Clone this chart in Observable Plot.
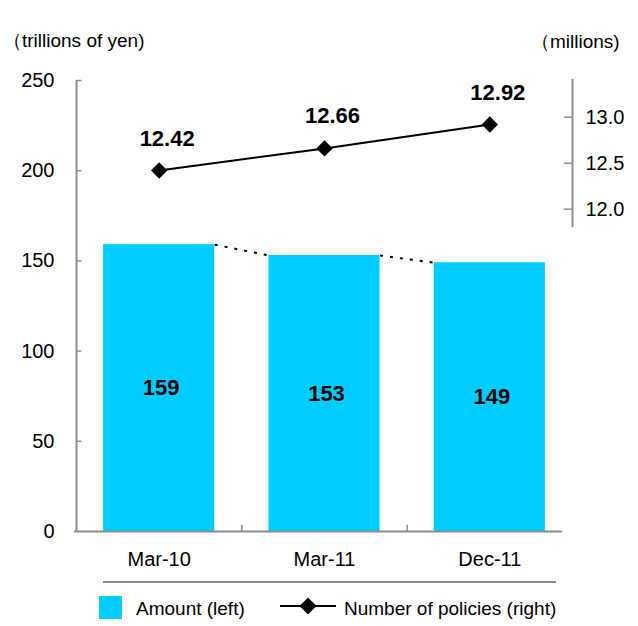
<!DOCTYPE html>
<html><head><meta charset="utf-8">
<script src="https://cdn.jsdelivr.net/npm/d3@7"></script>
<script src="https://cdn.jsdelivr.net/npm/@observablehq/plot@0.6"></script>
<style>
body{margin:0;background:#fff;font-family:"Liberation Sans",Arial,sans-serif;}
#wrap{position:relative;width:638px;height:626px;overflow:hidden;}
#wrap svg.plot{position:absolute;left:0;top:0;}
.abs{position:absolute;font-size:19px;line-height:19px;color:#000;white-space:nowrap;}
</style></head><body>
<div id="wrap"></div>
<script>
// ---- data ----
const categories = ["Mar-10", "Mar-11", "Dec-11"];
const amounts = [159, 153, 149];          // trillions of yen (left axis)
const policies = [12.42, 12.66, 12.92];   // millions (right axis)
const leftTicks = [0, 50, 100, 150, 200, 250];
const rightTicks = [12.0, 12.5, 13.0];
const leftDomain = [0, 250];
const rightAxisExtent = [11.8, 13.41];
const unitLeft = "（trillions of yen)";
const unitRight = "（millions)";
const legendAmount = "Amount (left)";
const legendPolicies = "Number of policies (right)";

// ---- styling / helpers ----
const barColor = "#00CCFF";
const axisColor = "#8c8c8c";
const barWidth = 0.672;
// right axis values expressed on the left (primary) y scale
const rightToLeft = d3.scaleLinear().domain([12, 13]).range([178.7, 229.7]);

const idx = categories.map((_, i) => i);
const links = idx.slice(0, -1);

const W = 638, H = 575;
const plot = Plot.plot({
  width: W, height: H,
  marginLeft: 76, marginRight: 66, marginTop: 80, marginBottom: 44,
  style: {fontFamily: '"Liberation Sans", Arial, sans-serif', fontSize: "20px", color: "#000", background: "transparent"},
  x: {type: "linear", domain: [0, categories.length], axis: null},
  y: {domain: leftDomain, axis: null},
  marks: [
    Plot.rectY(idx, {x1: i => i + 0.5 - barWidth / 2, x2: i => i + 0.5 + barWidth / 2, y1: 0, y2: i => amounts[i], fill: barColor}),
    Plot.link(links, {
      x1: i => i + 0.5 + barWidth / 2, y1: i => amounts[i],
      x2: i => i + 1.5 - barWidth / 2, y2: i => amounts[i + 1],
      stroke: "#000", strokeWidth: 2, strokeDasharray: "3,7"
    }),
    Plot.text(idx, {x: i => i + 0.5, y: i => amounts[i] / 2, text: i => String(amounts[i]), fontSize: 22, fontWeight: "bold", dx: 2, fill: "#000"}),
    // axes lines and ticks
    Plot.ruleX([0], {y1: leftDomain[0], y2: leftDomain[1], stroke: axisColor, strokeWidth: 2}),
    Plot.ruleY([0], {x1: -0.012, x2: 2.94, stroke: axisColor, strokeWidth: 2}),
    Plot.ruleY(leftTicks.slice(1), {x1: 0, x2: 0.033, stroke: axisColor, strokeWidth: 1.5}),
    Plot.ruleX([1, 2], {y1: 0, y2: 3.4, stroke: axisColor, strokeWidth: 1.5}),
    Plot.ruleX([categories.length], {y1: rightToLeft(rightAxisExtent[0]), y2: rightToLeft(rightAxisExtent[1]), stroke: axisColor, strokeWidth: 2}),
    Plot.ruleY(rightTicks, {y: d => rightToLeft(d), x1: categories.length - 0.05, x2: categories.length, stroke: axisColor, strokeWidth: 1.5}),
    Plot.axisY({ticks: leftTicks, tickSize: 0, tickPadding: 22, tickFormat: d => String(d), fontSize: 20}),
    Plot.axisY({anchor: "right", ticks: rightTicks.map(d => rightToLeft(d)), tickSize: 0, tickPadding: 13,
      tickFormat: d => rightToLeft.invert(d).toFixed(1), fontSize: 20}),
    Plot.axisX({ticks: idx.map(i => i + 0.5), tickSize: 0, tickPadding: 20,
      tickFormat: d => categories[Math.floor(d)], fontSize: 20}),
    // policies line
    Plot.line(idx, {x: i => i + 0.5, y: i => rightToLeft(policies[i]), stroke: "#000", strokeWidth: 2}),
    Plot.dot(idx, {x: i => i + 0.5, y: i => rightToLeft(policies[i]), symbol: "diamond2", r: 7.4, fill: "#000", stroke: "none"}),
    Plot.text(idx, {x: i => i + 0.5, y: i => rightToLeft(policies[i]), text: i => policies[i].toFixed(2),
      fontSize: 22, fontWeight: "bold", dx: 8, dy: -32, fill: "#000"})
  ]
});

const wrap = document.getElementById("wrap");
wrap.appendChild(plot);

function addDiv(text, left, top, extra) {
  const d = document.createElement("div");
  d.className = "abs";
  d.textContent = text;
  d.style.left = left + "px";
  d.style.top = top + "px";
  if (extra) Object.assign(d.style, extra);
  wrap.appendChild(d);
  return d;
}
addDiv(unitLeft, 3, 31);
addDiv(unitRight, 531, 32);

// legend
const sep = document.createElement("div");
Object.assign(sep.style, {position: "absolute", left: "103px", top: "581px", width: "453px", height: "2px", background: axisColor});
wrap.appendChild(sep);
const sw = document.createElement("div");
Object.assign(sw.style, {position: "absolute", left: "99px", top: "596px", width: "23px", height: "23px", background: barColor});
wrap.appendChild(sw);
addDiv(legendAmount, 136, 599);
const ls = d3.create("svg").attr("width", 56).attr("height", 22)
  .style("position", "absolute").style("left", "280px").style("top", "595px");
ls.append("line").attr("x1", 0).attr("x2", 56).attr("y1", 11).attr("y2", 11).attr("stroke", "#000").attr("stroke-width", 2);
ls.append("path").attr("d", d3.symbol(d3.symbolDiamond2, 180)()).attr("transform", "translate(28,11)").attr("fill", "#000");
wrap.appendChild(ls.node());
addDiv(legendPolicies, 344, 599);
</script>
</body></html>
